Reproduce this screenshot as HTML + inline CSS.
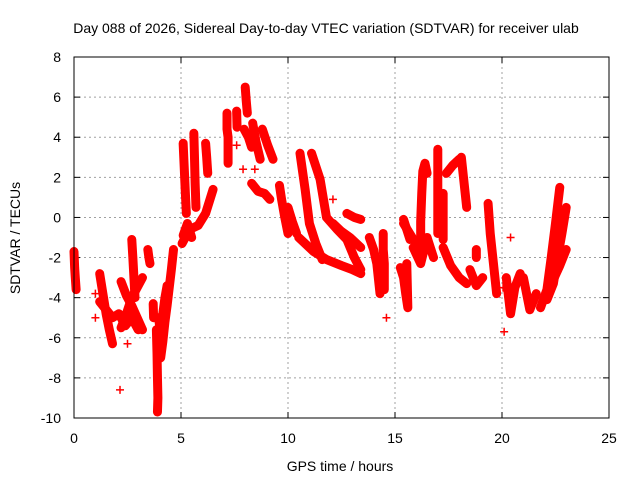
<!DOCTYPE html>
<html><head><meta charset="utf-8"><style>
body{margin:0;background:#fff;}
svg{display:block;font-family:"Liberation Sans",sans-serif;}
</style></head><body>
<svg id="chart" width="640" height="480" viewBox="0 0 640 480">
<rect width="640" height="480" fill="#fff"/>
<text x="326" y="33" font-size="14" text-anchor="middle" fill="#000">Day 088 of 2026, Sidereal Day-to-day VTEC variation (SDTVAR) for receiver ulab</text>
<text x="340" y="471" font-size="14" text-anchor="middle" fill="#000">GPS time / hours</text>
<text transform="translate(20,238) rotate(-90)" font-size="14" text-anchor="middle" fill="#000">SDTVAR / TECUs</text>
<g id="grid"></g>
<g id="ticks"></g>
<g id="marks"></g>
<rect x="74" y="57" width="535" height="361" fill="none" stroke="#000" stroke-width="1"/>
</svg>
<script>
const xTicks=[0,5,10,15,20,25];
const yTicks=[8,6,4,2,0,-2,-4,-6,-8,-10];
const trackTimes=[
[0,0.03,0.06,0.1],[1.0],[1.0],
[1.2,1.35,1.5,1.65,1.8],
[1.2,1.5,1.8,2.1,2.4,2.7,3.0],
[2.2,2.45,2.7,2.95,3.2],
[2.2,2.45,2.7,2.95,3.2],
[2.7,2.75,2.8,2.85],
[3.45,3.5,3.55],
[2.5],[2.15],[3.7,3.72],
[3.85,3.88,3.9,3.92,3.9],
[4.05,4.15,4.25,4.35,4.45,4.55,4.65],
[3.95,4.05,4.15,4.25,4.35],
[5.1,5.15,5.2,5.25],
[5.6,5.63,5.66,5.7],
[6.15,6.2,6.25],
[5.05,5.4,5.8,6.15,6.5],
[5.1,5.3,5.5],
[7.15,7.15,7.2,7.2],
[7.6,7.62],[7.6],
[8.0,8.05,8.1],
[7.95,8.15,8.3],
[8.35,8.5,8.7],
[8.8,9.05,9.3],
[7.9],[8.45],
[8.3,8.6,8.9,9.15],
[9.6,9.7,9.85,10.0],
[10.0,10.2,10.4],
[10.56,10.8,11.0,11.3,11.6],
[11.1,11.5,11.8,12.3,12.75,13.1,13.4],
[10.5,11.2,11.8,12.5,13.0,13.4],
[12.1,12.5,12.9,13.4],
[12.75,13.1,13.4],
[12.1],
[13.8,14.0,14.15,14.3],
[14.45,14.45,14.5,14.5],
[14.6],
[15.4,15.55,15.7],
[15.25,15.4,15.5,15.6,15.55],
[15.4,15.8,16.2],
[15.85,16.2,16.5,16.8],
[16.2,16.2,16.25,16.3,16.4,16.5],
[17.0,17.0,17.0,17.0],
[17.25,17.25,17.25],
[17.4,17.7,18.0],
[18.1,18.2,18.3,18.35],
[17.25,17.6,18.0,18.35],
[18.5,18.8,19.1],
[18.8,18.8],
[19.35,19.45,19.55,19.65,19.75],
[20.4],[20.05],[20.1],
[20.2,20.4,20.6,20.85],
[21.0,21.3,21.6],
[21.8,22.1,22.3,22.5,22.7],
[22.1,22.4,22.6,22.8,23.0],
[22.4,22.7,23.0]
];
const trackValues=[
[-1.7,-2.5,-3.0,-3.6],[-3.8],[-5.0],
[-2.8,-3.8,-4.8,-5.6,-6.3],
[-4.2,-4.6,-5.0,-4.8,-5.4,-5.0,-5.6],
[-3.2,-3.9,-4.4,-5.0,-5.6],
[-5.5,-4.8,-4.0,-3.5,-3.0],
[-1.1,-2.0,-3.0,-4.0],
[-1.6,-2.0,-2.3],
[-6.3],[-8.6],[-4.3,-5.0],
[-5.6,-6.8,-8.0,-9.0,-9.7],
[-7.0,-6.2,-5.2,-4.4,-3.5,-2.6,-1.6],
[-5.0,-5.8,-4.8,-4.0,-3.4],
[3.7,2.5,1.3,0.2],
[4.2,3.0,1.7,0.5],
[3.7,3.0,2.2],
[-1.3,-0.6,-0.4,0.2,1.4],
[-0.9,-0.3,-1.0],
[5.2,4.4,4.0,2.7],
[5.3,4.5],[3.6],
[6.5,5.8,5.2],
[4.4,4.0,3.5],
[4.7,3.8,2.9],
[4.4,3.6,2.9],
[2.4],[2.4],
[1.7,1.3,1.2,0.9],
[1.6,0.9,0.0,-0.8],
[0.5,-0.2,-0.8],
[3.2,1.4,-0.3,-1.3,-2.1],
[3.2,1.9,0.0,-0.6,-1.1,-2.0,-2.6],
[-1.0,-1.7,-2.1,-2.4,-2.6,-2.8],
[-0.3,-0.7,-1.0,-1.5],
[0.2,0.0,-0.1],
[0.9],
[-1.0,-1.6,-2.3,-3.8],
[-0.8,-1.6,-2.3,-3.6],
[-5.0],
[-0.1,-0.6,-1.1],
[-2.5,-3.0,-3.8,-4.5,-2.3],
[-0.3,-1.0,-1.6],
[-1.5,-2.3,-1.0,-2.0],
[-1.6,-0.2,1.2,2.3,2.7,2.2],
[3.4,2.0,0.5,-0.8],
[1.2,0.0,-1.1],
[2.2,2.6,2.9],
[3.0,2.0,1.0,0.5],
[-1.5,-2.4,-3.0,-3.3],
[-2.6,-3.4,-3.0],
[-1.6,-2.0],
[0.7,-0.8,-1.8,-2.8,-3.8],
[-1.0],[-3.5],[-5.7],
[-3.0,-4.8,-3.5,-2.8],
[-3.0,-4.6,-3.8],
[-4.5,-3.6,-2.0,-0.3,1.5],
[-4.1,-3.3,-2.0,-0.8,0.5],
[-3.1,-2.4,-1.6]
];
const NS="http://www.w3.org/2000/svg";
const L=74,R=609,T=57,B=418;
function xs(t){return L+(t-0)/(25-0)*(R-L);}
function ys(v){return B-(v+10)/(18)*(B-T);}
const grid=document.getElementById('grid'),ticks=document.getElementById('ticks'),marks=document.getElementById('marks');
function mk(tag,a,p){const e=document.createElementNS(NS,tag);for(const k in a)e.setAttribute(k,a[k]);p.appendChild(e);return e;}
xTicks.forEach(t=>{
 const x=xs(t);
 if(t>0&&t<25){const g=mk('line',{x1:x,x2:x,y1:T,y2:B,stroke:'#a0a0a0','stroke-dasharray':'2,3'},grid);
 
 }
 mk('line',{x1:x,x2:x,y1:B,y2:B-6,stroke:'#000'},ticks);
 mk('line',{x1:x,x2:x,y1:T,y2:T+6,stroke:'#000'},ticks);
 const tx=mk('text',{x:x,y:443,'font-size':14,'text-anchor':'middle'},ticks);tx.textContent=t;
 
 
});
yTicks.forEach(v=>{
 const y=ys(v);
 if(v>-10&&v<8){const g=mk('line',{x1:L,x2:R,y1:y,y2:y,stroke:'#a0a0a0','stroke-dasharray':'2,3'},grid);
 
 }
 mk('line',{x1:L,x2:L+6,y1:y,y2:y,stroke:'#000'},ticks);
 mk('line',{x1:R,x2:R-6,y1:y,y2:y,stroke:'#000'},ticks);
 const tx=mk('text',{x:61,y:y+5,'font-size':14,'text-anchor':'end'},ticks);tx.textContent=v;
 
 
});
trackTimes.forEach((ts,k)=>{
 const vs=trackValues[k];
 if(ts.length>1){
  const pts=ts.map((t,i)=>xs(t)+','+ys(vs[i])).join(' ');
  const pl=mk('polyline',{points:pts,fill:'none',stroke:'#f00','stroke-width':9,'stroke-linejoin':'round','stroke-linecap':'round'},marks);
  
  
 }
 ts.forEach((t,i)=>{
  const x=xs(t),y=ys(vs[i]);
  const p=mk('path',{d:`M${x-4},${y}H${x+4}M${x},${y-4}V${y+4}`,stroke:'#f00','stroke-width':1.5,fill:'none'},marks);
  
  
 });
});
</script>
</body></html>
